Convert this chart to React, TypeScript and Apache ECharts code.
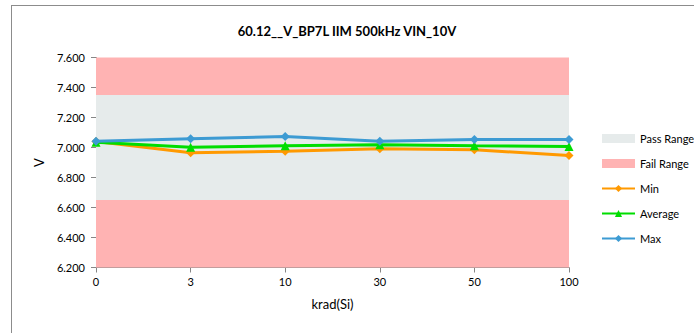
import React, { useEffect, useRef } from "react";
import * as echarts from "echarts";

const categories = ["0", "3", "10", "30", "50", "100"];
const minValues = [7.04, 6.965, 6.975, 6.991, 6.985, 6.947];
const avgValues = [7.035, 7.002, 7.011, 7.018, 7.011, 7.007];
const maxValues = [7.042, 7.058, 7.073, 7.042, 7.053, 7.053];
const passRange = [6.65, 7.35];
const failRangeHigh = [7.35, 7.6];
const failRangeLow = [6.2, 6.65];
const yMin = 6.2;
const yMax = 7.6;
const yInterval = 0.2;

const FONT = "Lato, 'Open Sans', sans-serif";

export default function App() {
  const ref = useRef<HTMLDivElement>(null);
  useEffect(() => {
    if (!ref.current) return;
    const chart = echarts.init(ref.current, null, { renderer: "svg" });
    chart.setOption({
      animation: false,
      backgroundColor: "#ffffff",
      textStyle: { fontFamily: FONT },
      title: {
        text: "60.12__V_BP7L IIM 500kHz VIN_10V",
        left: "center",
        top: 19,
        textStyle: { fontFamily: FONT, fontSize: 13, fontWeight: "bold", color: "#000" },
      },
      graphic: [
        { type: "line", shape: { x1: 11, y1: 5.5, x2: 694, y2: 5.5 }, style: { stroke: "#8c8c8c", lineWidth: 1 } },
        { type: "line", shape: { x1: 11.5, y1: 5, x2: 11.5, y2: 333 }, style: { stroke: "#8c8c8c", lineWidth: 1 } },
      ],
      legend: {
        orient: "vertical",
        left: 601,
        top: 133,
        padding: 0,
        itemWidth: 33,
        itemHeight: 9,
        itemGap: 14,
        textStyle: { fontFamily: FONT, fontSize: 11, color: "#000", overflow: "none" },
        data: [
          { name: "Pass Range", icon: "rect" },
          { name: "Fail Range", icon: "rect" },
          { name: "Min" },
          { name: "Average" },
          { name: "Max" },
        ],
      },
      grid: { left: 96, right: 125, top: 57.5, bottom: 65.5, containLabel: false },
      xAxis: {
        type: "category",
        data: categories,
        boundaryGap: false,
        name: "krad(Si)",
        nameLocation: "middle",
        nameGap: 30,
        nameTextStyle: { fontFamily: FONT, fontSize: 13, color: "#000" },
        axisLine: { lineStyle: { color: "#868686", width: 1 } },
        axisTick: { alignWithLabel: true, length: 5, lineStyle: { color: "#868686" } },
        axisLabel: { fontFamily: FONT, fontSize: 11, color: "#000", margin: 8 },
        splitLine: { show: false },
      },
      yAxis: {
        type: "value",
        min: yMin,
        max: yMax,
        interval: yInterval,
        name: "V",
        nameLocation: "middle",
        nameGap: 48,
        nameTextStyle: { fontFamily: FONT, fontSize: 13, color: "#000" },
        axisLine: { show: true, lineStyle: { color: "#868686", width: 1 } },
        axisTick: { show: true, length: 5, lineStyle: { color: "#868686" } },
        axisLabel: {
          fontFamily: FONT,
          fontSize: 11,
          color: "#000",
          margin: 11,
          formatter: (v: number) => v.toFixed(3),
        },
        splitLine: { show: false },
      },
      series: [
        {
          name: "Pass Range",
          type: "line",
          data: [],
          itemStyle: { color: "#E6EBEB" },
          lineStyle: { color: "#E6EBEB" },
          markArea: {
            silent: true,
            itemStyle: { color: "#E6EBEB" },
            data: [[{ yAxis: passRange[0] }, { yAxis: passRange[1] }]],
          },
        },
        {
          name: "Fail Range",
          type: "line",
          data: [],
          itemStyle: { color: "#FFB3B3" },
          lineStyle: { color: "#FFB3B3" },
          markArea: {
            silent: true,
            itemStyle: { color: "#FFB3B3" },
            data: [
              [{ yAxis: failRangeHigh[0] }, { yAxis: failRangeHigh[1] }],
              [{ yAxis: failRangeLow[0] }, { yAxis: failRangeLow[1] }],
            ],
          },
        },
        {
          name: "Min",
          type: "line",
          data: minValues,
          symbol: "diamond",
          symbolSize: 9,
          lineStyle: { color: "#FF9900", width: 3 },
          itemStyle: { color: "#FF9900" },
          z: 3,
        },
        {
          name: "Average",
          type: "line",
          data: avgValues,
          symbol: "triangle",
          symbolSize: 9,
          lineStyle: { color: "#00DD00", width: 3 },
          itemStyle: { color: "#00DD00" },
          z: 4,
        },
        {
          name: "Max",
          type: "line",
          data: maxValues,
          symbol: "diamond",
          symbolSize: 9,
          lineStyle: { color: "#3D9BD3", width: 3 },
          itemStyle: { color: "#3D9BD3" },
          z: 5,
        },
      ],
    });
    return () => chart.dispose();
  }, []);
  return (
    <div
      ref={ref}
      style={{ position: "absolute", left: 0, top: 0, width: 694, height: 333 }}
    />
  );
}
